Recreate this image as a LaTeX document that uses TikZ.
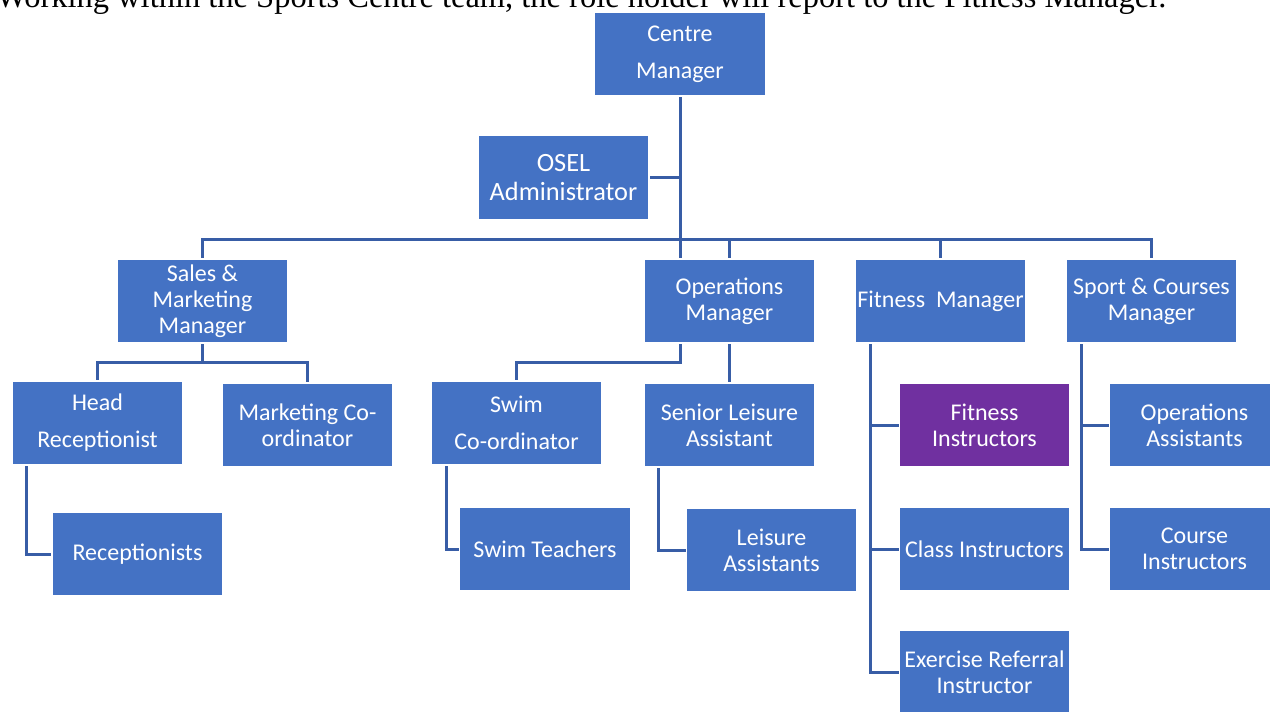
\documentclass[tikz,border=0pt]{standalone}
\usepackage{fontspec}
\setmainfont{Liberation Serif}
\newfontfamily\boxfont{Carlito}
\usepackage{xcolor}
\definecolor{OrgBlue}{HTML}{4472C4}
\definecolor{OrgPurple}{HTML}{7030A0}
\definecolor{OrgLine}{RGB}{56,93,166}
\usetikzlibrary{positioning, backgrounds}

\begin{document}
\begin{tikzpicture}[
    x=0.02cm, y=-0.02cm,
    post/.style={
        rectangle, draw=white, line width=0.6pt,
        fill=OrgBlue, minimum width=3.42cm, minimum height=1.68cm,
        inner sep=1pt, align=center, text=white,
        font=\boxfont\fontsize{13.66}{14.8}\selectfont
    },
    hilite/.style={post, fill=OrgPurple},
    link/.style={draw=OrgLine, line width=1.7pt}
]
\useasboundingbox (0,0) rectangle (1270,711);
\clip (0,0) rectangle (1270,711);

% heading line, cut off by the page edge
\node[anchor=base west, inner sep=0pt] (heading) at (-4,7)
    {\resizebox{23.4cm}{!}{Working within the Sports Centre team, the role holder will report to the Fitness Manager.}};

% top
\node[post] (centre) at (680,54) {Centre\\[6.2pt] Manager};
\node[post, minimum width=3.42cm, minimum height=1.7cm,
      font=\boxfont\fontsize{15}{16.5}\selectfont] (osel) at (563.5,177.5)
    {OSEL\\ Administrator};

% managers
\node[post] (sales)   at (202.5,301)  {Sales \&\\ Marketing\\ Manager};
\node[post] (ops)     at (729.5,301)  {Operations\\ Manager};
\node[post] (fitness) at (940.5,301)  {Fitness\ \ Manager};
\node[post] (sport)   at (1151.5,301) {Sport \& Courses\\ Manager};

% sales team
\node[post] (head)   at (97.5,423)  {Head\\[6.2pt] Receptionist};
\node[post] (mktco)  at (307.5,425) {Marketing Co-\\ ordinator};
\node[post] (recep)  at (137.5,554) {Receptionists};

% operations team
\node[post] (swimco)  at (516.5,423) {Swim\\[6.2pt] Co-ordinator};
\node[post] (senior)  at (729.5,425) {Senior Leisure\\ Assistant};
\node[post] (swimt)   at (545,549)   {Swim Teachers};
\node[post] (leisure) at (771.5,550) {Leisure\\ Assistants};

% fitness team
\node[hilite] (fitins)   at (984.5,425) {Fitness\\ Instructors};
\node[post]   (classins) at (984.5,549) {Class Instructors};
\node[post]   (exref)    at (984.5,672) {Exercise Referral\\ Instructor};

% sport team
\node[post] (opsass)    at (1194.5,425) {Operations\\ Assistants};
\node[post] (courseins) at (1194.5,549) {Course\\ Instructors};

\coordinate (bus) at (680,239);

\begin{scope}[on background layer]
\draw[link] (centre.south) -- (centre.south |- ops.north);
\draw[link] (osel.east) -- (osel.east -| centre.south);
\draw[link] (sales.north) -- (sales.north |- bus) -- (sport.north |- bus) -- (sport.north);
\draw[link] (ops.north) -- (ops.north |- bus);
\draw[link] (fitness.north) -- (fitness.north |- bus);

\draw[link] (sales.south) -- ++(0,19) -| (head.north);
\draw[link] (sales.south) ++(0,19) -| (mktco.north);
\draw[link] (head.south west) ++(15,0) |- (recep.west);

\draw[link] (ops.south) ++(-49,0) -- ++(0,19) -| (swimco.north);
\draw[link] (ops.south) -- (senior.north);
\draw[link] (swimco.south west) ++(16,0) |- (swimt.west);
\draw[link] (senior.south west) ++(15,0) |- (leisure.west);

\draw[link] (fitness.south west) ++(16,0) |- (exref.west);
\draw[link] (fitness.south west) ++(16,0) |- (fitins.west);
\draw[link] (fitness.south west) ++(16,0) |- (classins.west);

\draw[link] (sport.south west) ++(16,0) |- (courseins.west);
\draw[link] (sport.south west) ++(16,0) |- (opsass.west);
\end{scope}

\end{tikzpicture}
\end{document}
